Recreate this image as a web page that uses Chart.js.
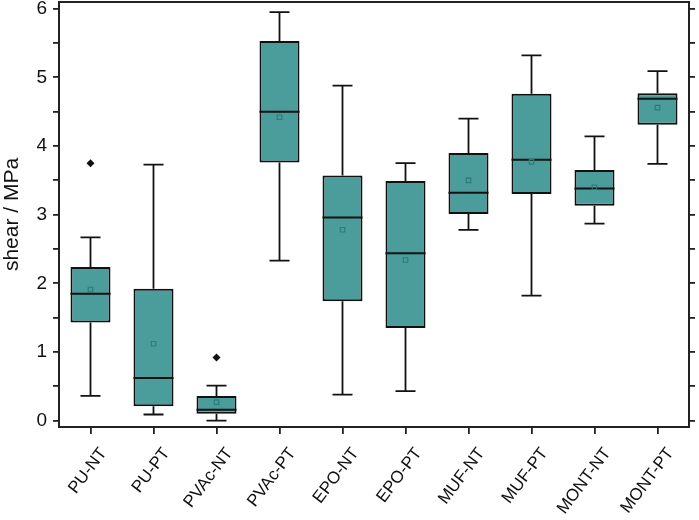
<!DOCTYPE html>
<html>
<head>
<meta charset="utf-8">
<script src="https://cdn.jsdelivr.net/npm/chart.js@4.4.1/dist/chart.umd.min.js"></script>
<style>
    html, body { margin: 0; padding: 0; background: #fff; }
    #wrap { width: 699px; height: 520px; }
</style>
</head>
<body>
<div id="wrap"><canvas id="shearChart" width="699" height="520"></canvas></div>
<script>
// adhesive systems
const categories = ['PU-NT', 'PU-PT', 'PVAc-NT', 'PVAc-PT', 'EPO-NT', 'EPO-PT', 'MUF-NT', 'MUF-PT', 'MONT-NT', 'MONT-PT'];
const whiskerLow = [0.36, 0.09, 0.0, 2.33, 0.38, 0.43, 2.78, 1.82, 2.87, 3.74];
const q1 = [1.43, 0.21, 0.10, 3.76, 1.74, 1.35, 3.01, 3.30, 3.13, 4.31];
const median = [1.85, 0.62, 0.16, 4.50, 2.96, 2.44, 3.32, 3.80, 3.38, 4.69];
const q3 = [2.24, 1.92, 0.36, 5.53, 3.57, 3.49, 3.90, 4.76, 3.65, 4.77];
const whiskerHigh = [2.67, 3.73, 0.51, 5.95, 4.88, 3.75, 4.40, 5.32, 4.14, 5.09];
const means = [1.91, 1.12, 0.27, 4.42, 2.78, 2.34, 3.50, 3.77, 3.40, 4.56];
const outliers = [3.75, null, 0.92, null, null, null, null, null, null, null];
const yTicks = [0, 0.5, 1, 1.5, 2, 2.5, 3, 3.5, 4, 4.5, 5, 5.5, 6];

const boxFill = '#4a9d9b';
const meanColor = '#2c7a77';
const fontFamily = 'Liberation Sans, Arial, sans-serif';

// whiskers under the boxes, medians on top of them, frame at the end
const boxExtras = {
    id: 'boxExtras',
    beforeDatasetsDraw(chart) {
        const ctx = chart.ctx;
        const yScale = chart.scales.y;
        const bars = chart.getDatasetMeta(0).data;
        ctx.save();
        ctx.strokeStyle = '#111';
        ctx.lineWidth = 1.8;
        bars.forEach((bar, i) => {
            const half = bar.width / 4;
            const yHigh = yScale.getPixelForValue(whiskerHigh[i]);
            const yLow = yScale.getPixelForValue(whiskerLow[i]);
            ctx.beginPath();
            ctx.moveTo(bar.x, yScale.getPixelForValue(q3[i]));
            ctx.lineTo(bar.x, yHigh);
            ctx.moveTo(bar.x - half, yHigh);
            ctx.lineTo(bar.x + half, yHigh);
            ctx.moveTo(bar.x, yScale.getPixelForValue(q1[i]));
            ctx.lineTo(bar.x, yLow);
            ctx.moveTo(bar.x - half, yLow);
            ctx.lineTo(bar.x + half, yLow);
            ctx.stroke();
        });
        ctx.restore();
    },
    afterDatasetDraw(chart, args) {
        if (args.index !== 0) return;
        const ctx = chart.ctx;
        const yScale = chart.scales.y;
        ctx.save();
        ctx.strokeStyle = '#111';
        ctx.lineWidth = 2;
        args.meta.data.forEach((bar, i) => {
            const y = yScale.getPixelForValue(median[i]);
            ctx.beginPath();
            ctx.moveTo(bar.x - bar.width / 2, y);
            ctx.lineTo(bar.x + bar.width / 2, y);
            ctx.stroke();
        });
        ctx.restore();
    },
    afterDraw(chart) {
        const a = chart.chartArea;
        const ctx = chart.ctx;
        ctx.save();
        ctx.strokeStyle = '#222';
        ctx.lineWidth = 2;
        ctx.strokeRect(a.left, a.top, a.right - a.left, a.bottom - a.top);
        ctx.restore();
    }
};

const yMin = -0.092;
const yMax = 6.098;

function noOverhang(scale) {
    scale.paddingTop = 0;
    scale.paddingBottom = 0;
    scale.paddingLeft = 0;
    scale.paddingRight = 0;
}

const chart = new Chart(document.getElementById('shearChart'), {
    data: {
        labels: categories,
        datasets: [{
            type: 'bar',
            data: categories.map((c, i) => [q1[i], q3[i]]),
            backgroundColor: boxFill,
            borderColor: '#111',
            borderWidth: 2,
            borderSkipped: false,
            barPercentage: 0.635,
            categoryPercentage: 1,
            order: 3
        }, {
            type: 'line',
            data: means,
            showLine: false,
            pointStyle: 'rect',
            pointRadius: 3.2,
            pointBorderWidth: 1.1,
            pointBorderColor: meanColor,
            pointBackgroundColor: 'rgba(0,0,0,0)',
            order: 1
        }, {
            type: 'line',
            data: outliers,
            showLine: false,
            pointStyle: 'rectRot',
            pointRadius: 4,
            pointBorderWidth: 0,
            pointBackgroundColor: '#111',
            pointBorderColor: '#111',
            order: 1
        }]
    },
    options: {
        responsive: false,
        animation: false,
        events: [],
        layout: { autoPadding: false, padding: { top: 2, left: 0, right: 0, bottom: 0 } },
        plugins: {
            legend: { display: false },
            tooltip: { enabled: false }
        },
        scales: {
            x: {
                offset: true,
                grid: { offset: false, drawOnChartArea: false, tickLength: 7, color: '#222', lineWidth: 1.8 },
                border: { display: false },
                ticks: {
                    color: '#111',
                    font: { family: fontFamily, size: 17 },
                    minRotation: 53,
                    maxRotation: 53,
                    autoSkip: false,
                    padding: 10,
                    labelOffset: 13
                },
                afterFit(scale) { scale.height = 93; noOverhang(scale); }
            },
            y: {
                min: yMin,
                max: yMax,
                afterBuildTicks(scale) { scale.ticks = yTicks.map(v => ({ value: v })); },
                grid: { drawOnChartArea: false, tickLength: 6, color: '#222', lineWidth: 1.8 },
                border: { display: false },
                ticks: {
                    color: '#111',
                    font: { family: fontFamily, size: 19 },
                    padding: 6,
                    callback: v => (v % 1 === 0 ? v : '')
                },
                title: {
                    display: true,
                    text: 'shear / MPa',
                    color: '#111',
                    font: { family: fontFamily, size: 21 },
                    padding: 0
                },
                afterFit(scale) { scale.width = 59; noOverhang(scale); }
            },
            y2: {
                position: 'right',
                min: yMin,
                max: yMax,
                afterBuildTicks(scale) { scale.ticks = yTicks.map(v => ({ value: v })); },
                grid: { drawOnChartArea: false, tickLength: 6, color: '#222', lineWidth: 1.8 },
                border: { display: false },
                ticks: { display: false },
                afterFit(scale) { scale.width = 10; noOverhang(scale); }
            }
        }
    },
    plugins: [boxExtras]
});
</script>
</body>
</html>
